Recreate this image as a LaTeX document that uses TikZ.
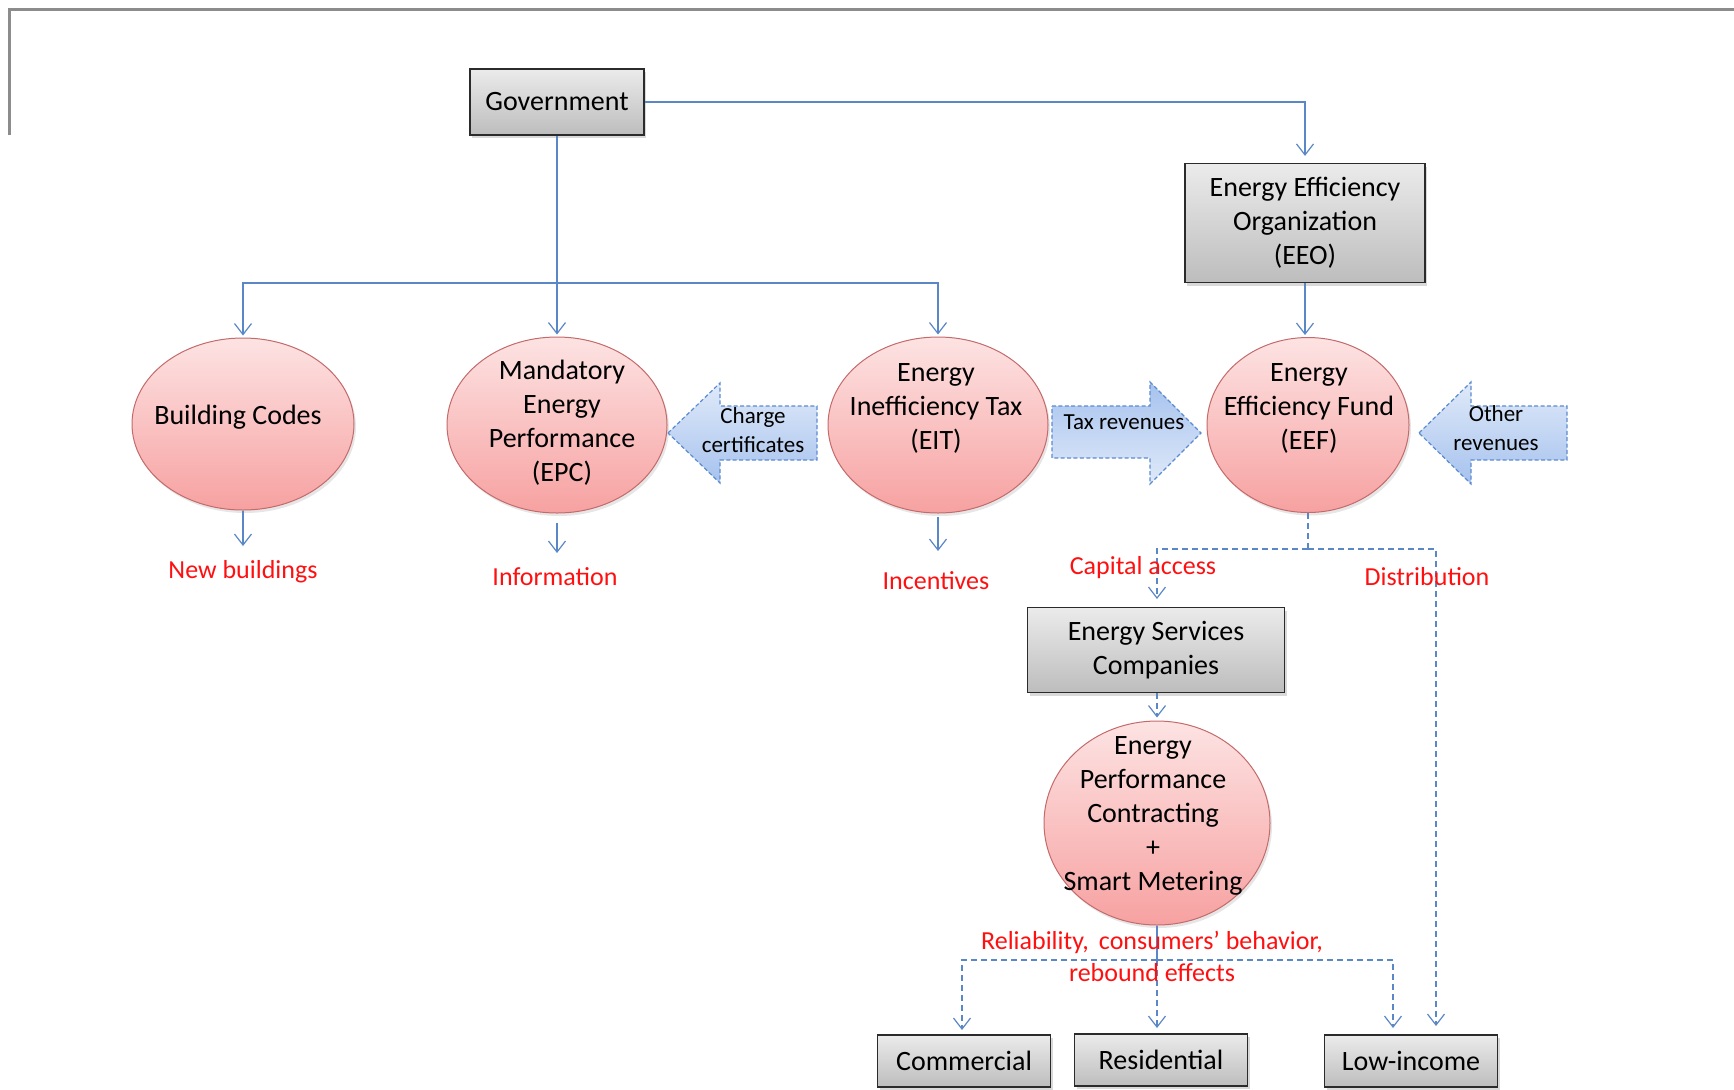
\documentclass[tikz,border=0pt]{standalone}
\usepackage{fontspec}
\setmainfont{Carlito}
\usetikzlibrary{arrows.meta,shapes.geometric,shadows}
\definecolor{conncol}{HTML}{5A87C6}
\definecolor{framecol}{HTML}{8C8C8C}
\definecolor{ellcol}{HTML}{C46A6A}
\definecolor{elltop}{HTML}{FDE3E3}
\definecolor{ellbot}{HTML}{F7A1A1}
\definecolor{boxtop}{HTML}{EBEBEB}
\definecolor{boxbot}{HTML}{BDBDBD}
\definecolor{boxline}{HTML}{2B2B2B}
\definecolor{balight}{HTML}{E0EAF9}
\definecolor{badark}{HTML}{A6C2EE}
\definecolor{baline}{HTML}{5B8BD0}
\definecolor{redtxt}{HTML}{FF1010}
\begin{document}
\begin{tikzpicture}[x=0.5pt,y=-0.5pt,
  conn/.style={draw=conncol, line width=0.6pt},
  arr/.style={conn, -{Straight Barb[length=5.5pt,width=8.5pt]}},
  dsh/.style={dash pattern=on 3pt off 2pt},
  graybox/.style={rectangle, draw=boxline, line width=0.6pt, top color=boxtop, bottom color=boxbot,
    drop shadow={shadow xshift=1pt, shadow yshift=-1.5pt, opacity=0.3},
    inner sep=0pt, align=center, font=\fontsize{14}{17}\selectfont},
  ell/.style={ellipse, draw=ellcol, line width=0.5pt, top color=elltop, bottom color=ellbot,
    drop shadow={shadow xshift=1pt, shadow yshift=-1.5pt, opacity=0.2}, inner sep=0pt},
  txt/.style={align=center, inner sep=0pt, font=\fontsize{14}{17}\selectfont},
  lbl/.style={text=redtxt, inner sep=0pt, align=center, font=\fontsize{13}{16}\selectfont},
  barrowL/.style={draw=baline, line width=0.6pt, dash pattern=on 2pt off 1.2pt, top color=balight, bottom color=badark},
  barrowR/.style={draw=baline, line width=0.6pt, dash pattern=on 2pt off 1.2pt, top color=badark, bottom color=balight},
  batxt/.style={align=center, inner sep=0pt, font=\fontsize{11.5}{14.5}\selectfont}
]
\useasboundingbox (0,0) rectangle (1734,1089);

% frame
\draw[framecol, line width=1.5pt] (9,135) -- (9,9) -- (1734,9);

% boxes
\node[graybox, minimum width=87pt, minimum height=33pt] (gov) at (557,102) {Government};
\node[graybox, minimum width=120pt, minimum height=59.5pt] (eeo) at (1305,223) {Energy Efficiency\\Organization\\(EEO)};
\node[graybox, minimum width=128.5pt, minimum height=42.5pt] (esco) at (1156,650) {Energy Services\\Companies};
\node[graybox, minimum width=86.5pt, minimum height=26pt] (com) at (964,1061) {Commercial};
\node[graybox, minimum width=86.5pt, minimum height=26pt] (res) at (1161,1060) {Residential};
\node[graybox, minimum width=86.5pt, minimum height=26pt] (low) at (1411,1061) {Low-income};

% ellipses
\node[ell, minimum width=111pt, minimum height=86pt] (bc) at (243,424) {};
\node[ell, minimum width=110pt, minimum height=88pt] (epc) at (557,425) {};
\node[ell, minimum width=110pt, minimum height=88pt] (eit) at (938,425) {};
\node[ell, minimum width=101pt, minimum height=87.5pt] (eef) at (1308,425) {};
\node[ell, minimum width=113pt, minimum height=102pt] (epct) at (1157,823) {};

\node[txt] (bc-t) at (238,417) {Building Codes};
\node[txt] (epc-t) at (562,423) {Mandatory\\Energy\\Performance\\(EPC)};
\node[txt] (eit-t) at (936,408) {Energy\\Inefficiency Tax\\(EIT)};
\node[txt] (eef-t) at (1309,408) {Energy\\Efficiency Fund\\(EEF)};
\node[txt] (epct-t) at (1153,816) {Energy\\Performance\\Contracting\\+\\Smart Metering};

% block arrows
\draw[barrowL] (668,433) -- (720,383) -- (720,406) -- (817,406) -- (817,460) -- (720,460) -- (720,483) -- cycle;
\node[batxt] (cc) at (753,430) {Charge\\certificates};
\draw[barrowR] (1052,406) -- (1150,406) -- (1150,382) -- (1201,433) -- (1150,484) -- (1150,458) -- (1052,458) -- cycle;
\node[batxt] (tr) at (1124,422) {Tax revenues};
\draw[barrowL] (1419,433) -- (1471,382) -- (1471,406) -- (1567,406) -- (1567,460) -- (1471,460) -- (1471,484) -- cycle;
\node[batxt] (or) at (1496,428) {Other\\revenues};

% connectors from government
\coordinate (hub) at (557,283);
\draw[arr, shorten >=3.5pt] (gov.east) -| (eeo.north);
\draw[conn] (gov.south) -- (hub);
\draw[arr, shorten >=1pt] (hub) -| (bc.north);
\draw[arr, shorten >=1pt] (hub) -- (epc.north);
\draw[arr, shorten >=1pt] (hub) -| (eit.north);
\draw[arr, shorten >=1pt] (eeo.south) -- (eeo.south |- eef.north);

% outputs
\node[lbl] (nb) at (243,572) {New buildings};
\node[lbl] (info) at (555,577) {Information};
\node[lbl] (inc) at (936,581) {Incentives};
\coordinate (bc-e) at (243,546);
\coordinate (epc-e) at (557,553);
\coordinate (eit-e) at (938,551);
\draw[arr] (bc.south) -- (bc-e);
\draw[arr, shorten <=4.5pt] (epc.south) -- (epc-e);
\draw[arr, shorten <=1.5pt] (eit.south) -- (eit-e);

% fund distribution
\coordinate (fj) at (1308,549);
\coordinate (dist-e) at (1436,1026);
\coordinate (cap-e) at (1157,599);
\draw[conn, dsh] (eef.south) -- (fj);
\draw[arr, dsh] (fj) -| (cap-e);
\draw[arr, dsh] (fj) -| (dist-e);
\node[lbl] (cap) at (1143,568) {Capital access};
\node[lbl] (dist) at (1427,577) {Distribution};

\draw[arr, dsh, shorten >=1.5pt] (esco.south -| epct.north) -- (epct.north);

% bottom
\coordinate (bj) at (1157,960);
\coordinate (li-e) at (1393,1028);
\coordinate (com-e) at (962,1030);
\coordinate (res-e) at (1157,1028);
\draw[conn] (epct.south) -- (bj);
\draw[arr, dsh] (bj) -- (res-e);
\draw[arr, dsh] (bj) -| (com-e);
\draw[arr, dsh] (bj) -| (li-e);
\node[lbl] (rel) at (1152,942) {Reliability,\, consumers’ behavior,};
\node[lbl] (reb) at (1152,973) {rebound effects};
\end{tikzpicture}
\end{document}
